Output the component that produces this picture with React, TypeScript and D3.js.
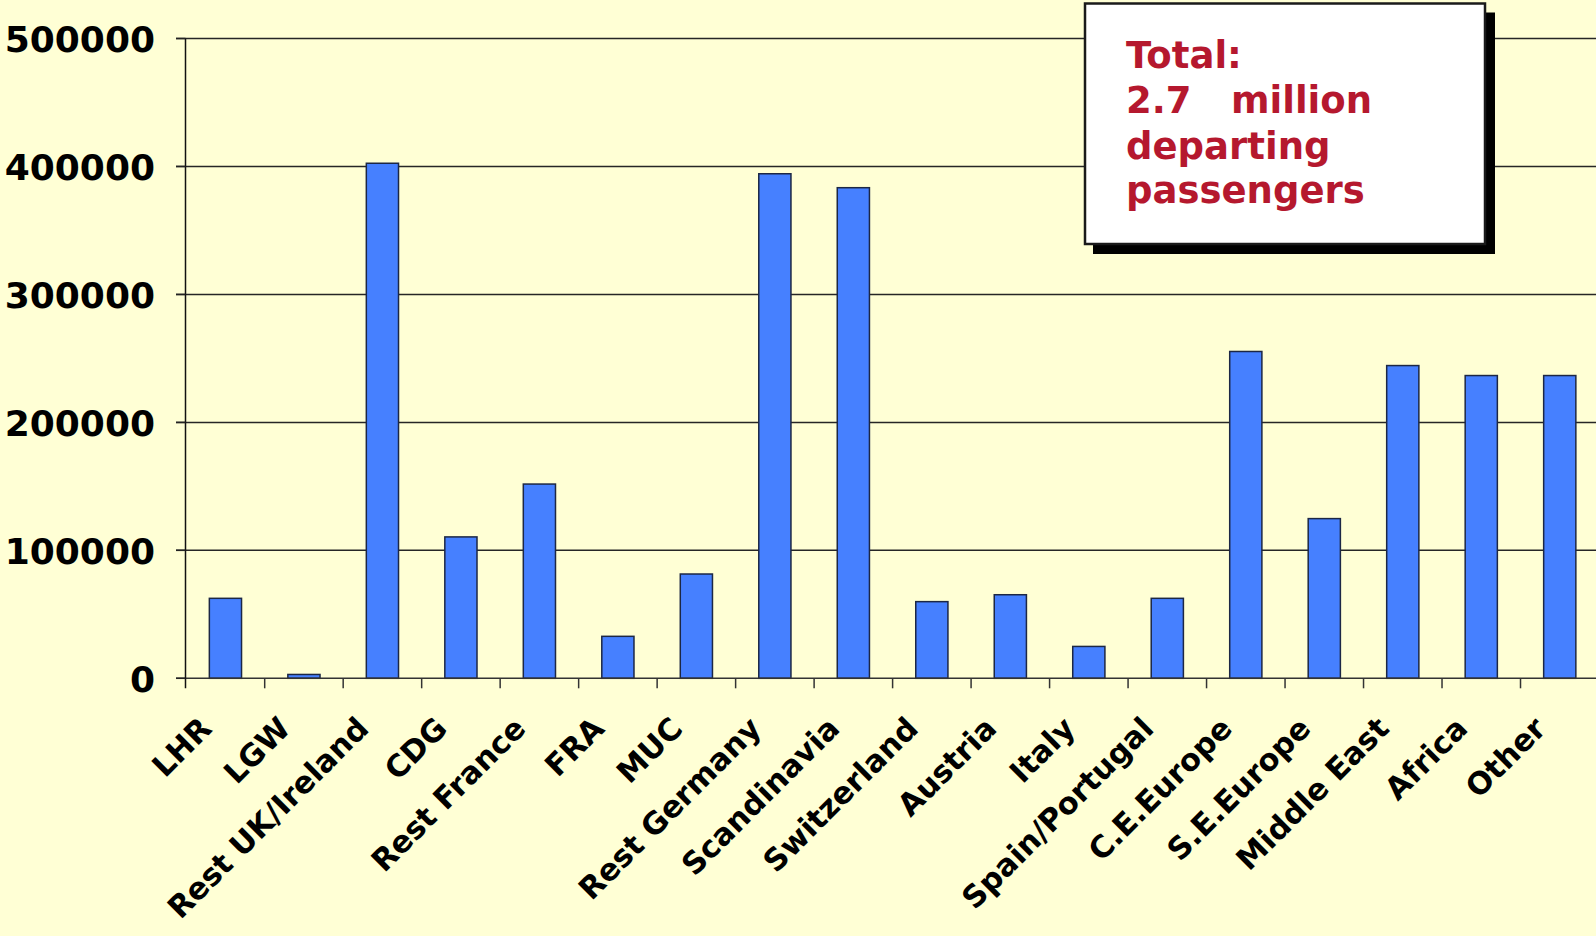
import React, { useEffect, useRef } from "react";
import * as d3 from "d3";

const categories = [
  "LHR", "LGW", "Rest UK/Ireland", "CDG", "Rest France", "FRA", "MUC",
  "Rest Germany", "Scandinavia", "Switzerland", "Austria", "Italy",
  "Spain/Portugal", "C.E.Europe", "S.E.Europe", "Middle East", "Africa", "Other",
];
const passengers = [
  62500, 3000, 402500, 110500, 151800, 32800, 81500,
  394300, 383400, 59900, 65300, 24900,
  62500, 255400, 124800, 244400, 236600, 236600,
];
const yTicks = [0, 100000, 200000, 300000, 400000, 500000];
const boxLines = ["Total:", "2.7", "departing", "passengers"];

const W = 1596;
const H = 936;
const FONT = "'DejaVu Sans', Verdana, sans-serif";

export default function App() {
  const ref = useRef<SVGSVGElement | null>(null);

  useEffect(() => {
    document.body.style.margin = "0";
    const svg = d3.select(ref.current);
    svg.selectAll("*").remove();

    const x = d3.scaleBand<string>().domain(categories).range([186.2, 1599]).padding(0);
    const y = d3.scaleLinear().domain([0, 500000]).range([678.3, 38.5]);
    const bw = x.bandwidth();
    const barW = bw * 0.41;

    svg.append("rect").attr("x", 0).attr("y", 0).attr("width", W).attr("height", H).attr("fill", "#FFFFD5");

    // gridlines
    svg.append("g")
      .selectAll("line")
      .data(yTicks.filter((t) => t > 0))
      .join("line")
      .attr("x1", 176)
      .attr("x2", W)
      .attr("y1", (d) => y(d))
      .attr("y2", (d) => y(d))
      .attr("stroke", "#262626")
      .attr("stroke-width", 1.5);

    // y tick labels
    svg.append("g")
      .selectAll("text")
      .data(yTicks)
      .join("text")
      .attr("x", 155)
      .attr("y", (d) => y(d))
      .attr("dy", "0.37em")
      .attr("text-anchor", "end")
      .attr("font-family", FONT)
      .attr("font-weight", "bold")
      .attr("font-size", 36)
      .attr("fill", "#000")
      .text((d) => String(d));

    // bars
    svg.append("g")
      .selectAll("rect")
      .data(categories)
      .join("rect")
      .attr("x", (d) => (x(d) as number) + (bw - barW) / 2)
      .attr("y", (d, i) => y(passengers[i]))
      .attr("width", barW)
      .attr("height", (d, i) => y(0) - y(passengers[i]))
      .attr("fill", "#4680FF")
      .attr("stroke", "#1c2745")
      .attr("stroke-width", 1.5);

    // x axis line
    svg.append("line")
      .attr("x1", 176).attr("x2", W)
      .attr("y1", y(0)).attr("y2", y(0))
      .attr("stroke", "#333").attr("stroke-width", 1.5);
    // y axis line
    svg.append("line")
      .attr("x1", 185.5).attr("x2", 185.5)
      .attr("y1", y(500000)).attr("y2", y(0) + 10)
      .attr("stroke", "#111").attr("stroke-width", 1.5);

    // y ticks
    svg.append("g").selectAll("line").data(yTicks).join("line")
      .attr("x1", 176).attr("x2", 185.5)
      .attr("y1", (d) => y(d)).attr("y2", (d) => y(d))
      .attr("stroke", "#222").attr("stroke-width", 1.5);

    // x ticks
    svg.append("g").selectAll("line").data(categories.slice(1)).join("line")
      .attr("x1", (d) => x(d) as number).attr("x2", (d) => x(d) as number)
      .attr("y1", y(0)).attr("y2", y(0) + 10)
      .attr("stroke", "#333").attr("stroke-width", 1.5);

    // x labels
    svg.append("g").selectAll("text").data(categories).join("text")
      .attr("transform", (d) => `translate(${(x(d) as number) + bw / 2 - 12},${y(0) + 52}) rotate(-45)`)
      .attr("text-anchor", "end")
      .attr("font-family", FONT)
      .attr("font-weight", "bold")
      .attr("font-size", 30.5)
      .attr("fill", "#000")
      .text((d) => d);

    // annotation box
    const bx = 1085, by = 3.5, bwid = 400, bh = 240.5;
    svg.append("rect").attr("x", bx + 8).attr("y", by + 9).attr("width", bwid + 2).attr("height", bh + 1).attr("fill", "#000");
    svg.append("rect").attr("x", bx).attr("y", by).attr("width", bwid).attr("height", bh)
      .attr("fill", "#fff").attr("stroke", "#1a1a1a").attr("stroke-width", 2.5);

    const red = "#B5182E";
    const baselines = [67.7, 113.3, 159, 203.3];
    const t = svg.append("g")
      .attr("font-family", FONT)
      .attr("font-weight", "bold")
      .attr("font-size", 37)
      .attr("fill", red);
    boxLines.forEach((line, i) => {
      t.append("text").attr("x", 1126).attr("y", baselines[i]).text(line);
    });
    t.append("text").attr("x", 1231).attr("y", baselines[1]).text("million");
  }, []);

  return (
    <div style={{ position: "absolute", left: 0, top: 0 }}>
      <svg ref={ref} width={W} height={H} style={{ display: "block" }} />
    </div>
  );
}
